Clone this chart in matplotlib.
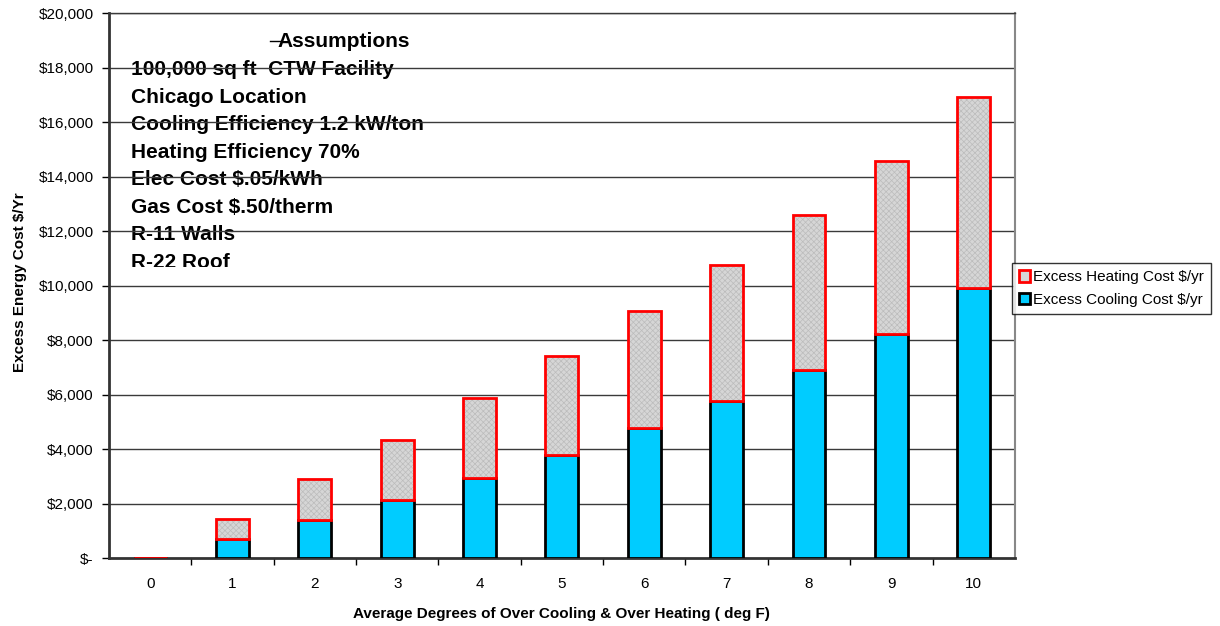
import matplotlib.pyplot as plt
import numpy as np
from matplotlib.transforms import Bbox, TransformedBbox

plt.rcParams['font.family'] = ['Liberation Sans', 'DejaVu Sans']
plt.rcParams['hatch.linewidth'] = 0.5

# Average degrees of over cooling / over heating
degrees = [0, 1, 2, 3, 4, 5, 6, 7, 8, 9, 10]
cooling_cost = [0, 680, 1400, 2130, 2940, 3780, 4770, 5760, 6900, 8220, 9900]
total_cost = [0, 1450, 2900, 4330, 5870, 7410, 9060, 10750, 12580, 14560, 16910]
heating_cost = [t - c for t, c in zip(total_cost, cooling_cost)]

y_ticks = [0, 2000, 4000, 6000, 8000, 10000, 12000, 14000, 16000, 18000, 20000]
y_labels = ['$-', '$2,000', '$4,000', '$6,000', '$8,000', '$10,000', '$12,000',
            '$14,000', '$16,000', '$18,000', '$20,000']

assumptions = ['100,000 sq ft  CTW Facility', 'Chicago Location',
               'Cooling Efficiency 1.2 kW/ton', 'Heating Efficiency 70%',
               'Elec Cost $.05/kWh', 'Gas Cost $.50/therm', 'R-11 Walls', 'R-22 Roof']

fig = plt.figure(figsize=(12.2, 6.26), dpi=100)
ax = fig.add_axes([0.0893, 0.1086, 0.7426, 0.8704])

x = np.array(degrees)
w = 0.4

ax.bar(x, cooling_cost, width=w, color='#00ccff', edgecolor='black',
       linewidth=2, zorder=3, label='Excess Cooling Cost $/yr')
# grey dotted fill for the heating part, then the red outline on top
ax.bar(x, heating_cost, width=w, bottom=cooling_cost, color='#d6d6d6',
       edgecolor='#bcbcbc', hatch='xxxxxx', linewidth=0, zorder=3)
ax.bar(x, heating_cost, width=w, bottom=cooling_cost, fill=False,
       edgecolor='#ff0000', linewidth=2, zorder=4)

for v in y_ticks[1:]:
    ax.axhline(v, color='#3a3a3a', lw=1, zorder=2)

ax.set_xlim(-0.5, 10.5)
ax.set_ylim(0, 20000)
ax.set_yticks(y_ticks)
ax.set_yticklabels(y_labels)
ax.set_xticks(x)
ax.set_xticklabels([str(d) for d in degrees])
ax.set_xticks(np.arange(0.5, 10.5, 1), minor=True)
ax.tick_params(axis='x', which='major', length=0, pad=14, labelsize=11)
ax.tick_params(axis='x', which='minor', length=5, width=1, direction='out')
ax.tick_params(axis='y', length=5, width=1, direction='out', labelsize=11, pad=6)

for s in ['left', 'bottom']:
    ax.spines[s].set_linewidth(2)
    ax.spines[s].set_color('#333333')
ax.spines['right'].set_color('#888888')
ax.spines['right'].set_linewidth(1.5)
ax.spines['top'].set_color('#3a3a3a')
ax.spines['top'].set_linewidth(1)

ax.set_ylabel('Excess Energy Cost $/Yr', fontsize=11, fontweight='bold')
ax.yaxis.set_label_coords(-0.0905, 0.507)
ax.set_xlabel('Average Degrees of Over Cooling & Over Heating ( deg F)',
              fontsize=11, fontweight='bold', labelpad=11)

# assumptions block, cut off at the bottom of its box
clip = TransformedBbox(Bbox([[0.0, 0.534], [0.5, 1.0]]), ax.transAxes)
ax.text(0.259, 0.9376, 'Assumptions', transform=ax.transAxes, fontsize=15,
        fontweight='bold', ha='center', va='baseline', zorder=1)
ax.plot([0.178, 0.19], [0.948, 0.948], transform=ax.transAxes, color='black',
        lw=1, zorder=1)
for i, line in enumerate(assumptions):
    t = ax.text(0.0243, 0.886 - i * 0.0505, line, transform=ax.transAxes,
                fontsize=15, fontweight='bold', ha='left', va='baseline', zorder=1)
    t.set_clip_box(clip)
    t.set_clip_on(True)

leg = ax.legend(handles=[ax.containers[2], ax.containers[0]],
                labels=['Excess Heating Cost $/yr', 'Excess Cooling Cost $/yr'],
                loc='center left', bbox_to_anchor=(0.997, 0.495), fontsize=11,
                frameon=True, fancybox=False, edgecolor='black',
                handlelength=0.7, handleheight=0.8, handletextpad=0.2,
                borderpad=0.45, labelspacing=0.55, borderaxespad=0)
leg.get_frame().set_linewidth(1)
leg.legend_handles[0].set_facecolor('#d6d6d6')
leg.legend_handles[0].set_fill(True)

fig.savefig('out.png', dpi=100)
